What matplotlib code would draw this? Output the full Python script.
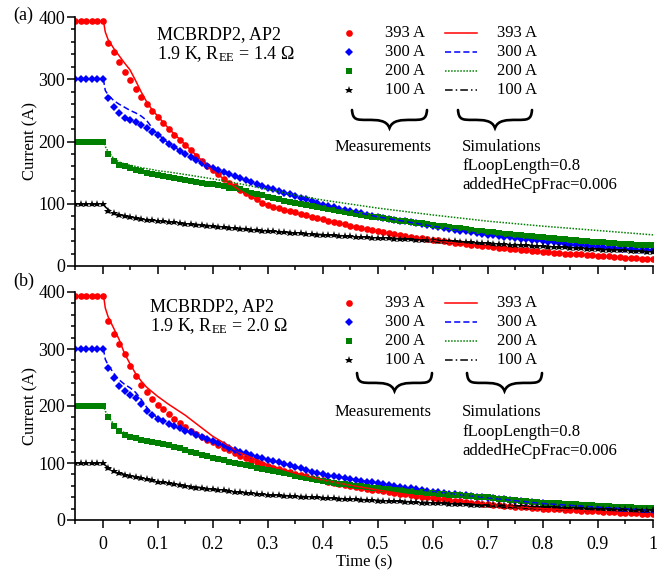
import numpy as np
import matplotlib
matplotlib.use('Agg')
import matplotlib.pyplot as plt
from matplotlib.path import Path
from matplotlib.patches import PathPatch
from matplotlib.lines import Line2D
from matplotlib.ticker import MultipleLocator

plt.rcParams['font.family'] = ['Liberation Serif', 'DejaVu Serif']
plt.rcParams['mathtext.fontset'] = 'custom'
plt.rcParams['mathtext.rm'] = 'Liberation Serif'
plt.rcParams['mathtext.it'] = 'Liberation Serif:italic'

### Data ###

labels = ['393 A', '300 A', '200 A', '100 A']
colors = ['red', 'blue', 'green', 'black']

# measurement time base (s), one sample every 10 ms
t_meas = np.round(np.arange(-0.05, 1.0001, 0.01), 2)

# (a) R_EE = 1.4 Ohm, measurements
a_meas_393 = [393, 393, 393, 393, 393,
              393, 358, 343, 327, 312, 298, 285, 272, 260, 249,
              239, 229, 220, 211, 203, 195, 186, 177, 169, 161,
              154, 147, 140, 134, 128, 122, 117, 112, 107, 102,
              98, 95.5, 93, 90.5, 88, 86, 84, 81.5, 79, 77,
              75, 73, 71, 69, 67, 65, 63, 61, 59.5, 57.5,
              56, 54.5, 53, 51.5, 50, 48.5, 47, 45.5, 44.5, 43,
              42, 41, 40, 38.5, 37.5, 36.5, 35.5, 34.5, 33.5, 32.5,
              31.5, 30.5, 29.5, 28.5, 28, 27, 26, 25.5, 24.5, 24,
              23, 22.5, 21.5, 21, 20, 19.5, 19, 18.5, 17.5, 17,
              16.5, 16, 15.5, 15, 14, 13.5, 13, 12.5, 12, 11.5,
              11]
a_meas_300 = [300, 300, 300, 300, 300,
              300, 270, 256, 245, 238, 234, 231, 227, 222, 216,
              210, 203, 196, 191, 185, 180, 175, 170, 166, 161,
              157, 154, 151, 147, 144, 141, 138, 135, 132, 129,
              126, 123, 120.5, 118, 115.5, 113, 110, 107, 104, 101,
              98, 96, 94, 92, 90, 88, 86, 84.5, 82.5, 81,
              79, 77.5, 76, 74.5, 73, 71.5, 70, 68.5, 67, 65.5,
              64, 62.5, 61, 59.5, 58, 57, 55.5, 54, 53, 51.5,
              50, 49, 48, 47, 46, 45, 44, 43, 42, 41,
              40, 39, 38, 37, 35.5, 34.5, 33.5, 33, 32, 31.5,
              30.5, 30, 29, 28.5, 28, 27.5, 27, 26.5, 26, 25.5,
              25]
a_meas_200 = [200, 200, 200, 200, 200,
              200, 180, 169, 163, 160, 157, 155, 152, 150, 148,
              146, 144.5, 143, 141.5, 140, 138.5, 137, 135.5, 134, 132.5,
              131, 129.5, 128, 126, 124.5, 123, 120.5, 118, 116, 113.5,
              111, 109, 107, 105, 103.5, 101.5, 100, 98, 96.5, 95,
              93, 91.5, 90, 88.5, 87, 85.5, 84, 82.5, 81, 79.5,
              78, 77, 75.5, 74.5, 73, 72, 71, 69.5, 68.5, 67,
              66, 65, 64, 62.5, 61.5, 60.5, 59.5, 58, 57, 56,
              55, 54, 53, 52, 51.5, 50.5, 49.5, 48.5, 47.5, 47,
              46, 45, 44.5, 43.5, 43, 42, 41.5, 40.5, 40, 39,
              38.5, 38, 37, 36.5, 36, 35.5, 35, 34.5, 34, 33.5,
              33]
a_meas_100 = [100, 100, 100, 100, 100,
              100, 89, 85, 82, 80, 78, 76.5, 75.5, 74.5, 73.5,
              72.5, 71.5, 70.5, 70, 69, 68, 67.5, 66.5, 65.5, 65,
              64, 63, 62, 61, 60.5, 60, 59, 58.5, 58, 57,
              56.5, 56, 55, 54.5, 53.5, 53, 52.5, 51.5, 51, 50.5,
              50, 49.5, 49, 48.5, 48, 47.5, 47, 46.5, 46, 45.5,
              45, 44.5, 44.5, 44, 43.5, 43, 43, 42.5, 42, 41.5,
              41, 40.5, 40, 39.5, 39.5, 39, 38.5, 38, 37.5, 37,
              36.5, 36, 35.5, 35, 34.5, 34, 33.5, 33, 32.5, 32,
              31.5, 31, 30.5, 30, 30, 29.5, 29, 28.5, 28, 27.5,
              27, 26.5, 26, 25.5, 25.5, 25, 24.5, 24, 23.5, 23,
              22.5]

# (b) R_EE = 2.0 Ohm, measurements
b_meas_393 = [393, 393, 393, 393, 393,
              393, 349, 326, 309, 291, 270, 253, 237, 224, 212,
              202, 194, 186, 178, 170, 163, 157, 151, 146, 141,
              136, 131, 126.5, 122, 117, 113, 109, 105, 101, 97.5,
              94, 91.5, 89, 86.5, 84, 81.5, 79, 77, 74.5, 72,
              69.5, 67.5, 65.5, 63.5, 61.5, 60, 58, 56.5, 55, 53.5,
              52, 50.5, 49, 47.5, 46, 45, 43.5, 42, 40.5, 39.5,
              38, 37, 36, 35, 33.5, 32.5, 31.5, 30.5, 29.5, 28.5,
              27.5, 26.5, 26, 25, 24.5, 23.5, 23, 22, 21.5, 21,
              20, 19.5, 19, 18.5, 18, 17.5, 17, 16.5, 16, 15.5,
              15, 14.5, 14, 13.5, 13, 12.5, 12, 11.5, 11, 10.5,
              10]
b_meas_300 = [300, 300, 300, 300, 300,
              300, 266, 250, 235, 226, 220, 214, 204, 192, 184,
              178, 173, 169, 165, 161, 157, 154, 150, 146, 142,
              138, 134.5, 131, 127, 123, 120, 117, 114, 111, 108.5,
              106, 103.5, 101, 98.5, 96, 93.5, 90.5, 88, 85, 82.5,
              80, 78, 76.5, 75, 73.5, 72, 70.5, 69, 67.5, 66,
              64.5, 63, 61.5, 60, 58.5, 57, 55.5, 54, 52.5, 51,
              49.5, 48.5, 47.5, 46, 45, 44, 43, 42, 41, 40,
              39, 38, 37, 36, 35, 34, 33, 32, 31, 30,
              29, 28.5, 27.5, 27, 26, 25.5, 25, 24, 23.5, 23,
              22.5, 22, 21.5, 21, 20, 19.5, 19, 18.5, 18, 17.5,
              17]
b_meas_200 = [200, 200, 200, 200, 200,
              200, 180, 165, 156, 150, 146, 143, 141, 139, 137,
              135, 133, 131, 128, 125.5, 123, 120, 117, 114, 111.5,
              109, 107, 104.5, 102, 100, 98, 96, 94, 92, 90,
              88, 86, 84, 82, 80, 78, 76, 74, 72, 70,
              68, 66.5, 65, 64, 62.5, 61.5, 60, 59, 58, 57,
              56, 55, 54, 53, 52, 51.5, 50.5, 49.5, 48.5, 48,
              47, 46, 45.5, 44.5, 43.5, 43, 42, 41.5, 40.5, 40,
              39.5, 38.5, 37.5, 36.5, 35.5, 35, 34, 33, 32, 31.5,
              30.5, 30, 29.5, 29, 28.5, 28, 27.5, 27, 26, 25.5,
              25, 24.5, 24, 23.5, 23, 22.5, 22, 21.5, 21, 21,
              20.5]
b_meas_100 = [100, 100, 100, 100, 100,
              100, 91, 86, 82, 79.5, 77.5, 75.5, 73.5, 71.5, 69.5,
              67.5, 66, 64.5, 63, 61.5, 60, 58.5, 57, 56, 55,
              54, 53, 52, 51, 50, 49, 48, 47, 46, 45,
              44, 43.5, 43, 42.5, 42, 41.5, 41, 40.5, 40, 39.5,
              39, 38.5, 38, 37.5, 37, 36.5, 36, 35.5, 35, 34.5,
              34, 33.5, 33, 32.5, 32.5, 32, 31.5, 31, 30.5, 30,
              30, 29.5, 29, 28.5, 28.5, 28, 27.5, 27, 27, 26.5,
              26, 25.5, 25.5, 25, 24.5, 24.5, 24, 23.5, 23.5, 23,
              22.5, 22.5, 22, 21.5, 21.5, 21, 21, 20.5, 20, 20,
              19.5, 19.5, 19, 19, 18.5, 18.5, 18, 18, 17.5, 17.5,
              17]

# simulation time base (s)
t_sim = [-0.05, 0, 0.002, 0.005, 0.01, 0.02, 0.03, 0.04, 0.05, 0.06, 0.07,
         0.08, 0.09, 0.1, 0.12, 0.15, 0.2, 0.25, 0.3, 0.35, 0.4, 0.5, 0.6,
         0.7, 0.8, 0.9, 1.0]

a_sim_393 = [393, 393, 392, 376, 364, 350, 338, 326, 315, 298, 280, 264, 251,
             241, 221, 195, 153, 121, 97, 85, 74, 55, 41, 31, 23, 16, 11]
a_sim_300 = [300, 300, 298, 282, 275, 266, 260, 255, 250, 246, 241, 234, 222,
             212, 197, 180, 157, 141, 126, 112, 98, 79, 64, 50, 40, 31, 25]
a_sim_200 = [200, 200, 199, 192, 184, 173, 167, 164, 162, 160, 158, 156.5, 155,
             153, 151, 147, 140, 132, 123, 114, 106, 93, 82, 72, 64, 57, 50]
a_sim_100 = [100, 100, 99, 95, 91, 86, 83, 81, 79, 77.5, 76, 75, 74,
             73, 71, 68.5, 64.5, 60.5, 57, 53.5, 50.5, 45.5, 41.5, 37, 32, 27.5, 23]

b_sim_393 = [393, 393, 393, 372, 357, 337, 317, 292, 274, 257, 244, 233, 225,
             217, 203, 184, 147, 118, 97, 82, 70, 52.5, 38, 27.5, 20, 15, 10]
b_sim_300 = [300, 300, 298, 282, 272, 258, 246, 238, 232, 224, 212, 198, 187,
             179, 169, 157, 138, 120, 106, 93, 80, 64.5, 49.5, 39, 29, 22.5, 17]
b_sim_200 = [200, 200, 199, 191, 183, 168, 159, 153, 149, 146, 143, 141, 139,
             137, 132, 125, 111, 99, 89, 79, 69, 57, 48, 40.5, 32, 26, 21]
b_sim_100 = [100, 100, 99, 96, 92, 87, 83, 80, 78, 76, 74, 72, 70,
             68, 65, 61, 54, 49, 44.5, 42, 39.5, 34.5, 30.5, 26.5, 23, 20, 17.5]

### Plot ###

W, H = 663, 574
fig = plt.figure(figsize=(W / 100, H / 100), dpi=100)


def fx(px):
    return px / W


def fy(py):
    return 1 - py / H


def brace(x0, x1, ytop, h):
    # curly brace opening upwards, tip pointing down (pixel coords)
    w = x1 - x0
    xm = (x0 + x1) / 2
    ym = ytop + h * 0.55
    yb = ytop + h
    pts = [(x0, ytop),
           (x0 + 0.01 * w, ym), (x0 + 0.06 * w, ym), (x0 + 0.2 * w, ym),
           (x0 + 0.34 * w, ym), (xm - 0.04 * w, ym), (xm, yb),
           (xm + 0.04 * w, ym), (x1 - 0.34 * w, ym), (x1 - 0.2 * w, ym),
           (x1 - 0.06 * w, ym), (x1 - 0.01 * w, ym), (x1, ytop)]
    codes = [Path.MOVETO] + [Path.CURVE4] * 12
    verts = [(fx(q[0]), fy(q[1])) for q in pts]
    patch = PathPatch(Path(verts, codes), transform=fig.transFigure,
                      fill=False, lw=1.9, edgecolor='black', capstyle='round')
    fig.add_artist(patch)


meas_style = [dict(marker='o', ms=4.8), dict(marker='D', ms=4.2),
              dict(marker='s', ms=4.3), dict(marker='*', ms=6.2)]
sim_style = [dict(ls='-', lw=1.1), dict(ls=(0, (4, 2)), lw=1.1),
             dict(ls=(0, (1, 1)), lw=1.1), dict(ls=(0, (5, 2, 1, 2)), lw=1.1)]

panels = [
    dict(rect=(75, 17, 653, 266), meas=[a_meas_393, a_meas_300, a_meas_200, a_meas_100],
         sim=[a_sim_393, a_sim_300, a_sim_200, a_sim_100], tag='(a)', tag_y=15,
         ann_y=(35, 54), ann_x=157, r='1.4', leg_y=(33, 52, 71, 90),
         br_m=(352, 427), br_s=(458, 532), br_y=110, txt_y=(147, 166, 185)),
    dict(rect=(75, 292, 653, 520), meas=[b_meas_393, b_meas_300, b_meas_200, b_meas_100],
         sim=[b_sim_393, b_sim_300, b_sim_200, b_sim_100], tag='(b)', tag_y=281,
         ann_y=(307, 326), ann_x=150, r='2.0', leg_y=(303, 322, 341, 360),
         br_m=(357, 432), br_s=(467, 542), br_y=373, txt_y=(412, 432, 451)),
]

for k, p in enumerate(panels):
    x0, y0, x1, y1 = p['rect']
    ax = fig.add_axes([fx(x0), fy(y1), fx(x1) - fx(x0), fy(y0) - fy(y1)])

    for i in range(4):
        ax.plot(t_meas, p['meas'][i], ls='none', color=colors[i], mew=0,
                **meas_style[i])
    for i in range(4):
        ax.plot(t_sim, p['sim'][i], color=colors[i], **sim_style[i])

    ax.set_xlim(-0.05, 1.0)
    ax.set_ylim(0, 400)
    ax.xaxis.set_major_locator(MultipleLocator(0.1))
    ax.xaxis.set_minor_locator(MultipleLocator(0.05))
    ax.yaxis.set_major_locator(MultipleLocator(100))
    ax.yaxis.set_minor_locator(MultipleLocator(20))
    ax.tick_params(which='major', direction='out', length=5.5, width=1.1)
    ax.tick_params(which='minor', direction='out', length=3, width=1.1)
    ax.tick_params(axis='y', labelsize=13, pad=1.5)
    ax.tick_params(axis='x', labelsize=13, pad=6)
    for s in ['top', 'right']:
        ax.spines[s].set_visible(False)
    for s in ['left', 'bottom']:
        ax.spines[s].set_linewidth(1.2)
    ax.set_ylabel('Current (A)', fontsize=12, labelpad=0)

    if k == 0:
        ax.tick_params(axis='x', labelbottom=False)
    else:
        ax.set_xticks(np.round(np.arange(0, 1.01, 0.1), 1))
        ax.set_xticklabels(['0', '0.1', '0.2', '0.3', '0.4', '0.5', '0.6',
                            '0.7', '0.8', '0.9', '1'])
        ax.set_xlabel('Time (s)', fontsize=12, labelpad=1)

    # legend, laid out as in the original figure
    for i in range(4):
        yy = fy(p['leg_y'][i])
        fig.add_artist(Line2D([fx(349)], [yy], ls='none', color=colors[i], mew=0,
                              transform=fig.transFigure, **meas_style[i]))
        fig.text(fx(385), yy, labels[i], fontsize=12, va='center')
        fig.add_artist(Line2D([fx(445), fx(477)], [yy, yy], color=colors[i],
                              transform=fig.transFigure, **sim_style[i]))
        fig.text(fx(497), yy, labels[i], fontsize=12, va='center')

    fig.text(fx(13), fy(p['tag_y']), p['tag'], fontsize=13, va='center')
    fig.text(fx(p['ann_x']), fy(p['ann_y'][0]), 'MCBRDP2, AP2', fontsize=13,
             va='center')
    fig.text(fx(p['ann_x']), fy(p['ann_y'][1]),
             '1.9 K, R$_{\\mathrm{EE}}$ = ' + p['r'] + ' \u03a9', fontsize=13,
             va='center')

    brace(p['br_m'][0], p['br_m'][1], p['br_y'], 18)
    brace(p['br_s'][0], p['br_s'][1], p['br_y'], 18)
    fig.text(fx(335), fy(p['txt_y'][0]), 'Measurements', fontsize=12, va='center')
    fig.text(fx(462), fy(p['txt_y'][0]), 'Simulations', fontsize=12, va='center')
    fig.text(fx(462), fy(p['txt_y'][1]), 'fLoopLength=0.8', fontsize=12, va='center')
    fig.text(fx(462), fy(p['txt_y'][2]), 'addedHeCpFrac=0.006', fontsize=12,
             va='center')

fig.savefig('out.png', dpi=100)
